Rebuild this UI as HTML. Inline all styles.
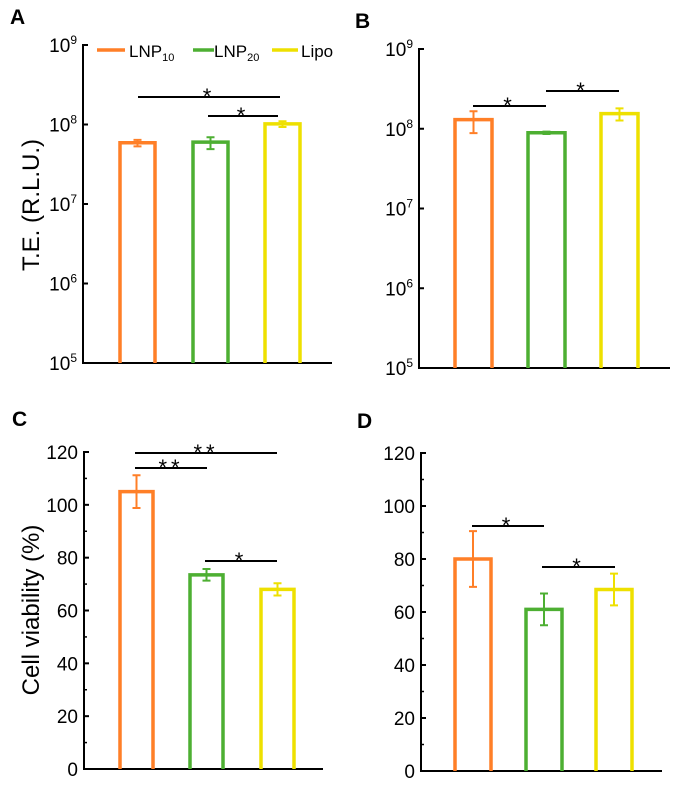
<!DOCTYPE html>
<html><head><meta charset="utf-8"><style>
body{margin:0;background:#fff;width:675px;height:797px;overflow:hidden}
svg{font-family:"Liberation Sans",Arial,sans-serif}
</style></head><body>
<svg id="fig" width="675" height="797">
<text x="10" y="24" font-size="21" font-weight="bold">A</text>
<text x="355" y="28" font-size="21" font-weight="bold">B</text>
<text x="12" y="426" font-size="21" font-weight="bold">C</text>
<text x="357" y="428" font-size="21" font-weight="bold">D</text>
<text transform="translate(39,205) rotate(-90)" text-anchor="middle" font-size="24">T.E. (R.L.U.)</text>
<text transform="translate(39,610) rotate(-90)" text-anchor="middle" font-size="24">Cell viability (%)</text>
<g>
<line x1="97" y1="50" x2="125" y2="50" stroke="#FF7F27" stroke-width="3.5"/>
<text x="129" y="57" font-size="17">LNP<tspan font-size="11" dy="4">10</tspan></text>
<line x1="193" y1="50" x2="214" y2="50" stroke="#4DAF32" stroke-width="3.5"/>
<text x="214" y="57" font-size="17">LNP<tspan font-size="11" dy="4">20</tspan></text>
<line x1="272" y1="50" x2="298" y2="50" stroke="#EEE000" stroke-width="3.5"/>
<text x="301" y="57" font-size="17">Lipo</text>
</g>
</svg>
<script>
const categories = ["LNP10","LNP20","Lipo"];
const colors = ["#FF7F27","#4DAF32","#EEE000"];
const teA = [5.9e7, 6.0e7, 1.02e8];
const teAErrLo = [5.3e7, 4.9e7, 9.3e7];
const teAErrHi = [6.4e7, 6.9e7, 1.1e8];
const teB = [1.3e8, 8.9e7, 1.55e8];
const teBErrLo = [8.8e7, 8.6e7, 1.27e8];
const teBErrHi = [1.66e8, 9.2e7, 1.8e8];
const viaC = [105, 73.5, 68];
const viaCErr = [6.2, 2.2, 2.3];
const viaD = [80, 61, 68.5];
const viaDErr = [10.5, 6, 6];
const logTicks = [5,6,7,8,9];
const linTicks = [0,20,40,60,80,100,120];
const NS="http://www.w3.org/2000/svg";
const svg=document.getElementById('fig');
function mk(tag,attrs,parent){const e=document.createElementNS(NS,tag);for(const k in attrs)e.setAttribute(k,attrs[k]);(parent||svg).appendChild(e);return e;}

function panel(p){
  const g=mk('g',{});
  
  
  const y=p.scale;
  const ya=mk('line',{x1:p.x0,y1:p.yTop-1,x2:p.x0,y2:p.yBot,stroke:'#000','stroke-width':2},g);
  
  
  const xa=mk('line',{x1:p.x0-1,y1:p.yBot,x2:p.x1,y2:p.yBot,stroke:'#000','stroke-width':2},g);
  
  
  p.ticks.forEach(t=>{
    const ty=p.log ? y(Math.pow(10,t)) : y(t);
    mk('line',{x1:p.x0,y1:ty,x2:p.x0+5,y2:ty,stroke:'#000','stroke-width':2},g);
    const tx=mk('text',{x:p.x0-6,y:ty+7,'text-anchor':'end','font-size':19},g);
    
    
    if(p.log){tx.textContent='10';const s=mk('tspan',{dy:-8,'font-size':12},tx);s.textContent=t;}
    else tx.textContent=t;
    if(!p.log && t<120){mk('line',{x1:p.x0,y1:y(t+10),x2:p.x0+3,y2:y(t+10),stroke:'#000','stroke-width':1.5},g);}
  });
  p.vals.forEach((v,i)=>{
    const bx=p.barX[i], top=y(v);
    const r=mk('path',{d:`M${bx} ${p.yBot} V${top} H${bx+p.bw} V${p.yBot}`,fill:'none',stroke:colors[i],'stroke-width':3.5},g);
    
    
    const cx=bx+p.bw/2, lo=y(p.lo[i]), hi=y(p.hi[i]);
    const e=mk('path',{d:`M${cx} ${lo} V${hi} M${cx-4} ${lo} H${cx+4} M${cx-4} ${hi} H${cx+4}`,stroke:colors[i],'stroke-width':2,fill:'none'},g);
    
    
  });
  p.sig.forEach(s=>{
    const l=mk('line',{x1:s[0],y1:s[2],x2:s[1],y2:s[2],stroke:'#000','stroke-width':2},g);
    
    
    const t=mk('text',{x:(s[0]+s[1])/2,y:s[2]+7,'text-anchor':'middle','font-size':22,'letter-spacing':'4'},g);
    
    
    t.textContent=s[3];
  });
}
function logScale(yTop,yBot){return v=>yBot-(Math.log10(v)-5)/4*(yBot-yTop);}
function linScale(yTop,yBot){return v=>yBot-v/120*(yBot-yTop);}
panel({name:'panel-a-chart',log:true,x0:83,x1:332,yTop:45,yBot:363,scale:logScale(45,363),ticks:logTicks,
  vals:teA,lo:teAErrLo,hi:teAErrHi,barX:[120,193,265],bw:35,
  sig:[[138,280,97,'*'],[208,278,116,'*']]});
panel({name:'panel-b-chart',log:true,x0:419,x1:670,yTop:49,yBot:368,scale:logScale(49,368),ticks:logTicks,
  vals:teB,lo:teBErrLo,hi:teBErrHi,barX:[455,528,601],bw:37,
  sig:[[473,546,106,'*'],[546,619,91,'*']]});
panel({name:'panel-c-chart',log:false,x0:84,x1:323,yTop:452,yBot:769,scale:linScale(452,769),ticks:linTicks,
  vals:viaC,lo:viaC.map((v,i)=>v-viaCErr[i]),hi:viaC.map((v,i)=>v+viaCErr[i]),barX:[120,190,261],bw:33,
  sig:[[135,277,453,'**'],[135,207,468,'**'],[205,277,561,'*']]});
panel({name:'panel-d-chart',log:false,x0:421,x1:662,yTop:453,yBot:771,scale:linScale(453,771),ticks:linTicks,
  vals:viaD,lo:viaD.map((v,i)=>v-viaDErr[i]),hi:viaD.map((v,i)=>v+viaDErr[i]),barX:[455,526,596],bw:36,
  sig:[[472,544,526,'*'],[542,615,567,'*']]});
</script>
</body></html>
